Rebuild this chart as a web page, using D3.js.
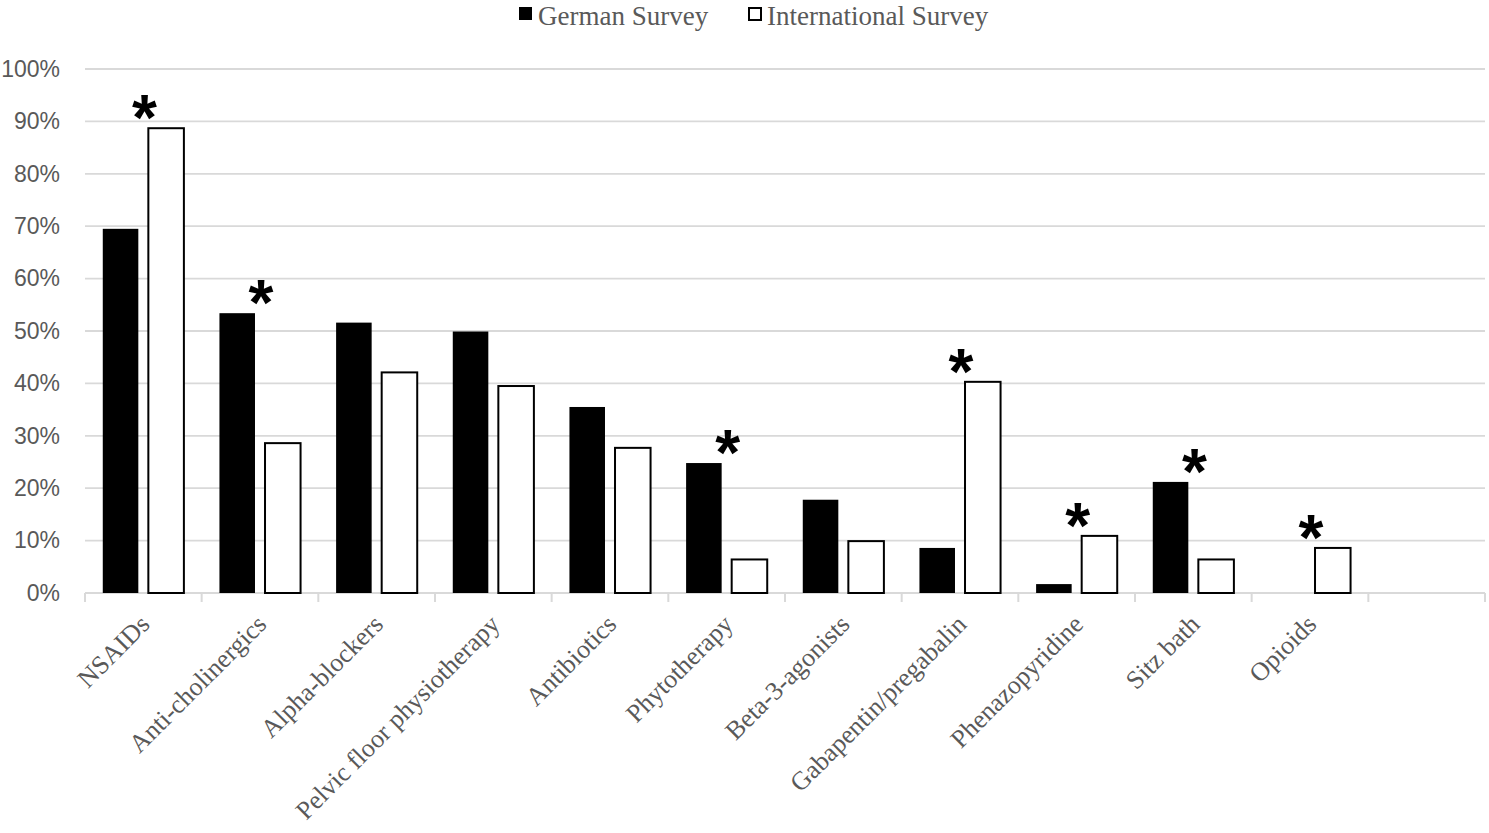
<!DOCTYPE html>
<html>
<head>
<meta charset="utf-8">
<script src="https://cdn.jsdelivr.net/npm/d3@7"></script>
<style>
  body { margin: 0; background: #fff; }
</style>
</head>
<body>
<script>
// chart values
const categories = ["NSAIDs", "Anti-cholinergics", "Alpha-blockers", "Pelvic floor physiotherapy",
    "Antibiotics", "Phytotherapy", "Beta-3-agonists", "Gabapentin/pregabalin",
    "Phenazopyridine", "Sitz bath", "Opioids"];
const series = ["German Survey", "International Survey"];
const german = [0.695, 0.534, 0.516, 0.499, 0.355, 0.248, 0.178, 0.086, 0.017, 0.212, 0];
const international = [0.887, 0.286, 0.421, 0.395, 0.277, 0.064, 0.099, 0.403, 0.109, 0.064, 0.086];
const significant = ["NSAIDs", "Anti-cholinergics", "Phytotherapy", "Gabapentin/pregabalin",
    "Phenazopyridine", "Sitz bath", "Opioids"];
const yTicks = [0, 0.1, 0.2, 0.3, 0.4, 0.5, 0.6, 0.7, 0.8, 0.9, 1.0];

const data = categories.map((c, i) => ({ category: c, values: [german[i], international[i]] }));

const W = 1489, H = 833;
const margin = { top: 69, right: 4, bottom: 240, left: 85 },
    width = W - margin.left - margin.right,
    height = H - margin.top - margin.bottom;

const svg = d3.select("body").append("svg")
    .attr("width", W)
    .attr("height", H)
    .style("font-family", "'Liberation Serif', 'Times New Roman', serif");

const g = svg.append("g")
    .attr("transform", `translate(${margin.left},${margin.top})`);

// one extra empty slot at the right end like the original
const x0 = d3.scaleBand()
    .domain([...categories, "__blank"])
    .range([0, width])
    .padding(0);

const x1 = d3.scaleBand()
    .domain(series)
    .range([0, x0.bandwidth()])
    .paddingInner(0.22)
    .paddingOuter(0.39);

const y = d3.scaleLinear()
    .domain([0, 1])
    .range([height, 0]);

// gridlines
g.append("g")
    .selectAll("line")
    .data(yTicks.filter(d => d > 0))
    .enter().append("line")
    .attr("x1", 0)
    .attr("x2", width)
    .attr("y1", d => y(d))
    .attr("y2", d => y(d))
    .attr("stroke", "#d9d9d9")
    .attr("stroke-width", 1.8);

// y axis labels
const yAxis = g.append("g")
    .call(d3.axisLeft(y).tickValues(yTicks).tickFormat(d3.format(".0%")).tickSize(0).tickPadding(25));
yAxis.select(".domain").remove();
yAxis.selectAll("text")
    .style("font-family", "'Liberation Sans', Arial, sans-serif")
    .style("font-size", "23px")
    .attr("fill", "#595959");

// x axis line and ticks
const xAxis = g.append("g")
    .attr("transform", `translate(0,${height})`);
xAxis.append("line")
    .attr("x1", 0).attr("x2", width)
    .attr("y1", 0).attr("y2", 0)
    .attr("stroke", "#d9d9d9")
    .attr("stroke-width", 2);
xAxis.selectAll(".tick")
    .data(x0.domain().concat(["__end"]))
    .enter().append("line")
    .attr("x1", d => d === "__end" ? width : x0(d))
    .attr("x2", d => d === "__end" ? width : x0(d))
    .attr("y1", 0).attr("y2", 9)
    .attr("stroke", "#d9d9d9")
    .attr("stroke-width", 2);

xAxis.selectAll(".label")
    .data(categories)
    .enter().append("text")
    .attr("transform", d => `translate(${x0(d) + x0.bandwidth() / 2 + 2},${27}) rotate(-45)`)
    .attr("text-anchor", "end")
    .attr("dy", "0.32em")
    .attr("fill", "#595959")
    .style("font-size", "26px")
    .text(d => d);

// bars
const groups = g.selectAll(".group")
    .data(data)
    .enter().append("g")
    .attr("transform", d => `translate(${x0(d.category)},0)`);

groups.selectAll("rect")
    .data(d => series.map((s, i) => ({ series: s, value: d.values[i] })))
    .enter().append("rect")
    .attr("x", d => x1(d.series))
    .attr("y", d => y(d.value))
    .attr("width", x1.bandwidth())
    .attr("height", d => height - y(d.value))
    .attr("fill", d => d.series === "German Survey" ? "#000" : "#fff")
    .attr("stroke", d => d.series === "German Survey" ? "none" : "#000")
    .attr("stroke-width", d => d.value > 0 ? 2 : 0);

// significance asterisks
groups.filter(d => significant.includes(d.category))
    .append("text")
    .attr("x", x0.bandwidth() / 2 + 1)
    .attr("y", d => y(d3.max(d.values)) + 12)
    .attr("text-anchor", "middle")
    .style("font-family", "'Liberation Sans', Arial, sans-serif")
    .style("font-weight", "bold")
    .style("font-size", "64px")
    .attr("fill", "#000")
    .text("*");

// legend
const legend = svg.append("g");
const legendX = [519, 748];
series.forEach((s, i) => {
    legend.append("rect")
        .attr("x", legendX[i] + (i ? 1 : 0))
        .attr("y", 7 + (i ? 1 : 0))
        .attr("width", i ? 12 : 13)
        .attr("height", i ? 12 : 13)
        .attr("fill", i ? "#fff" : "#000")
        .attr("stroke", i ? "#000" : "none")
        .attr("stroke-width", 2);
    legend.append("text")
        .attr("x", legendX[i] + 19)
        .attr("y", 24.5)
        .attr("fill", "#595959")
        .style("font-size", "27px")
        .text(s);
});
</script>
</body>
</html>
